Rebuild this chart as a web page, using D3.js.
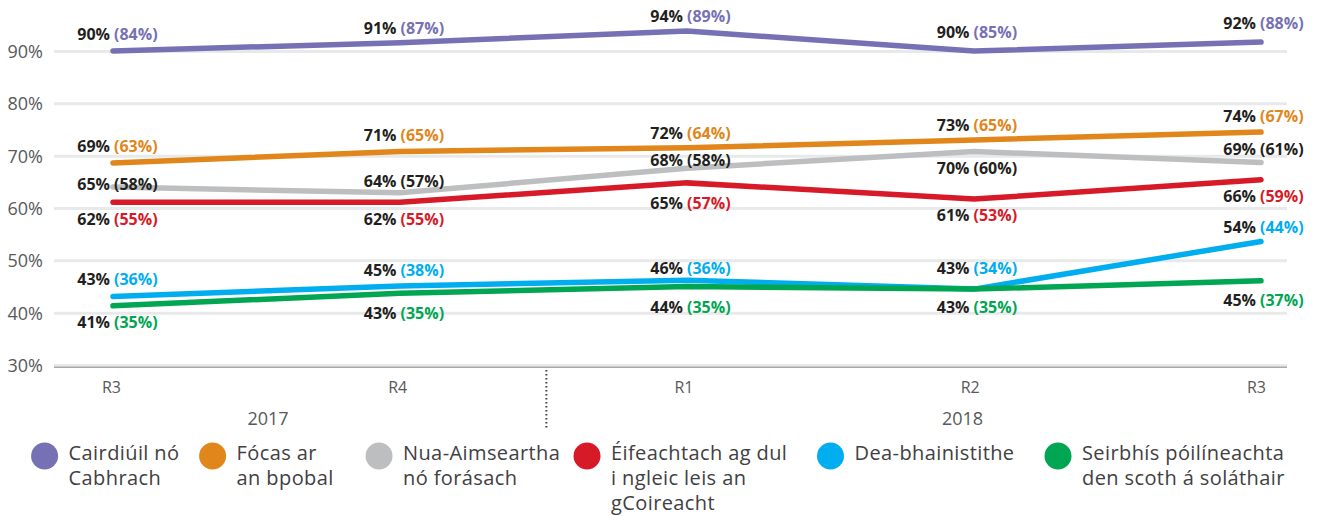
<!DOCTYPE html>
<html>
<head>
<meta charset="utf-8">
<script src="https://cdn.jsdelivr.net/npm/d3@7"></script>
<style>
  html, body { margin: 0; padding: 0; background: #fff; }
  svg { display: block; font-family: "Open Sans", "Noto Sans", sans-serif; }
</style>
</head>
<body>
<div id="chart"></div>
<script>
// ---------- DATA ----------
const rounds = ["R3", "R4", "R1", "R2", "R3"];
const years = ["2017", "2018"];
const yTicks = [30, 40, 50, 60, 70, 80, 90];

const seriesNames = [
  "Cairdiúil nó Cabhrach",
  "Fócas ar an bpobal",
  "Nua-Aimseartha nó forásach",
  "Éifeachtach ag dul i ngleic leis an gCoireacht",
  "Dea-bhainistithe",
  "Seirbhís póilíneachta den scoth á soláthair"
];

// line values (%)
const cairdiuil   = [90.0, 91.6, 93.8, 90.0, 91.7];
const focas       = [68.6, 70.8, 71.5, 73.0, 74.5];
const nuaAimseart = [64.0, 62.9, 67.6, 70.8, 68.7];
const eifeachtach = [61.1, 61.1, 64.8, 61.7, 65.4];
const deaBhainist = [43.1, 45.1, 46.2, 44.5, 53.6];
const seirbhis    = [41.3, 43.7, 45.0, 44.5, 46.1];

// printed labels: overall value and value in brackets
const cairdiuilLbl   = [90, 91, 94, 90, 92], cairdiuilPar   = [84, 87, 89, 85, 88];
const focasLbl       = [69, 71, 72, 73, 74], focasPar       = [63, 65, 64, 65, 67];
const nuaAimseartLbl = [65, 64, 68, 70, 69], nuaAimseartPar = [58, 57, 58, 60, 61];
const eifeachtachLbl = [62, 62, 65, 61, 66], eifeachtachPar = [55, 55, 57, 53, 59];
const deaBhainistLbl = [43, 45, 46, 43, 54], deaBhainistPar = [36, 38, 36, 34, 44];
const seirbhisLbl    = [41, 43, 44, 43, 45], seirbhisPar    = [35, 35, 35, 35, 37];

// ---------- STYLE / LAYOUT ----------
const colors = ["#7671b4", "#e0861b", "#bcbec0", "#d71a28", "#00aeef", "#00a651"];
const parenColors = ["#7671b4", "#e0861b", "#231f20", "#d71a28", "#00aeef", "#00a651"];
const dark = "#231f20";
const axisGrey = "#58595b";

// label baseline offsets relative to line point (px)
const labelDy = [
  [-11, -9, -9, -13, -13],
  [-11, -10, -8.5, -8.5, -10.5],
  [3, -6, -2, 23, -7],
  [23, 23, 26.5, 21.5, 22.5],
  [-11.5, -9.5, -6, -15, -8.5],
  [22, 26, 26.5, 24, 25.5]
];
const legendLines = [
  ["Cairdiúil nó", "Cabhrach"],
  ["Fócas ar", "an bpobal"],
  ["Nua-Aimseartha", "nó forásach"],
  ["Éifeachtach ag dul", "i ngleic leis an", "gCoireacht"],
  ["Dea-bhainistithe"],
  ["Seirbhís póilíneachta", "den scoth á soláthair"]
];
const legendX = [44.6, 212.6, 379, 587, 830.5, 1058];

const W = 1320, H = 516;
const values = [cairdiuil, focas, nuaAimseart, eifeachtach, deaBhainist, seirbhis];
const lbls = [cairdiuilLbl, focasLbl, nuaAimseartLbl, eifeachtachLbl, deaBhainistLbl, seirbhisLbl];
const pars = [cairdiuilPar, focasPar, nuaAimseartPar, eifeachtachPar, deaBhainistPar, seirbhisPar];

const svg = d3.select("#chart").append("svg").attr("width", W).attr("height", H);
svg.append("rect").attr("width", W).attr("height", H).attr("fill", "#fff");

const idx = d3.range(rounds.length);
const x = d3.scalePoint().domain(idx).range([113, 1261]);
const xLabel = d3.scalePoint().domain(idx).range([112, 1258]);
const xTick = d3.scalePoint().domain(idx).range([111, 1256]);
const xi = d3.scaleLinear().domain([0, rounds.length - 1]).range([113, 1261]);
const y = d3.scaleLinear().domain([30, 90]).range([365, 51]);

const gridLeft = 54, gridRight = 1287;

// y axis with gridlines
const yAxis = svg.append("g").attr("transform", `translate(${gridLeft},0)`)
  .call(d3.axisLeft(y).tickValues(yTicks).tickSize(-(gridRight - gridLeft)).tickPadding(11).tickFormat(d => d + "%"));
yAxis.select(".domain").remove();
yAxis.selectAll(".tick line").attr("stroke", "#e8e9ea").attr("stroke-width", 3);
yAxis.selectAll(".tick text").attr("font-size", 18).attr("fill", axisGrey)
  .attr("font-family", "'Open Sans', sans-serif").attr("dy", "0.36em");

// baseline
svg.append("line").attr("x1", gridLeft).attr("x2", gridRight)
  .attr("y1", y(30) + 2.3).attr("y2", y(30) + 2.3)
  .attr("stroke", "#a7a9ac").attr("stroke-width", 1.5);

// x axis tick labels
const xAxis = svg.append("g").attr("transform", `translate(0,${y(30)})`)
  .call(d3.axisBottom(xTick).tickSize(0).tickPadding(0).tickFormat(i => rounds[i]));
xAxis.select(".domain").remove();
xAxis.selectAll(".tick text").attr("font-size", 16).attr("fill", axisGrey)
  .attr("font-family", "'Open Sans', sans-serif").attr("y", 28).attr("dy", 0);

// year labels
const yearPos = [0.54, 2.96];
svg.selectAll(".year").data(years).enter().append("text")
  .attr("x", (d, i) => xi(yearPos[i])).attr("y", 424.5)
  .attr("text-anchor", "middle").attr("font-size", 18).attr("fill", axisGrey).text(d => d);

// year separator (dotted)
svg.append("line").attr("x1", xi(1.51)).attr("x2", xi(1.51))
  .attr("y1", 370).attr("y2", 428)
  .attr("stroke", "#414042").attr("stroke-width", 2).attr("stroke-dasharray", "1.6,2.4");

// lines
const line = d3.line().x((d, i) => x(i)).y(d => y(d));
const drawOrder = [2, 0, 1, 3, 4, 5];
drawOrder.forEach(s => {
  svg.append("path").datum(values[s]).attr("d", line)
    .attr("fill", "none").attr("stroke", colors[s]).attr("stroke-width", 5.5)
    .attr("stroke-linecap", "round").attr("stroke-linejoin", "miter");
});

// data labels
values.forEach((vals, s) => {
  const g = svg.append("g").attr("font-size", 16).attr("font-weight", 700);
  vals.forEach((v, i) => {
    const by = y(v) + labelDy[s][i];
    const sx = xLabel(i);
    g.append("text").attr("x", sx - 2).attr("y", by).attr("text-anchor", "end")
      .attr("fill", dark).text(lbls[s][i] + "%");
    g.append("text").attr("x", sx + 2).attr("y", by).attr("text-anchor", "start")
      .attr("fill", parenColors[s]).text("(" + pars[s][i] + "%)");
  });
});

// legend
const leg = svg.append("g");
legendLines.forEach((lines, s) => {
  const cx = legendX[s];
  leg.append("circle").attr("cx", cx).attr("cy", 456).attr("r", 13.5).attr("fill", colors[s]);
  const t = leg.append("text").attr("x", cx + 24).attr("y", 460).attr("font-size", 20)
    .attr("letter-spacing", 0.4).attr("fill", "#414042");
  lines.forEach((ln, k) => {
    t.append("tspan").attr("x", cx + 24).attr("y", 460 + k * 25).text(ln);
  });
});
</script>
</body>
</html>
